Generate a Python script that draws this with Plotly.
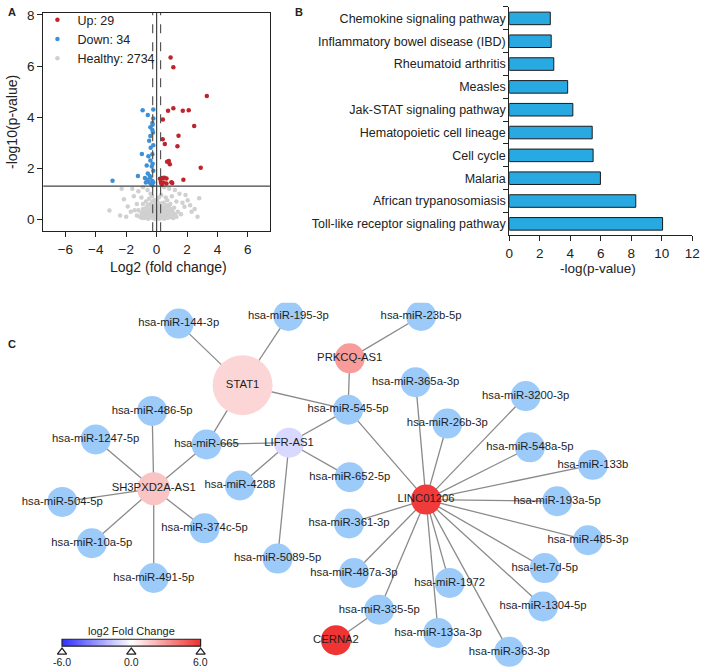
import numpy as np
import plotly.graph_objects as go

FONT = "Arial, Liberation Sans, sans-serif"
W, H = 709, 669

# ---------------- Panel A: volcano plot ----------------
up_x = [0.92, 1.1, 3.3, 2.11, 0.75, 1.1, 1.72, 2.47, 0.41, 1.44, 0.4, 0.54, 1.37, 0.69,
        0.8, 0.87, 2.9, 1.76, 0.22, 0.37, 0.5, 0.65, 0.28, 0.45, 0.97, 1.03, 0.65, 0.3, 0.34]
up_y = [6.34, 5.95, 4.83, 4.27, 4.25, 4.35, 4.25, 3.65, 3.91, 3.27, 3.13, 2.95, 2.86, 2.25,
        2.28, 2.16, 2.02, 1.55, 1.59, 1.62, 1.63, 1.6, 1.46, 1.44, 1.45, 1.42, 1.4, 1.42, 1.35]

down_x = [-0.92, -0.58, -0.28, -0.41, -0.28, -0.41, -0.24, -0.49, -0.39, -0.97, -0.54, -0.41,
          -0.65, -0.32, -0.26, -1.23, -0.58, -2.9, -0.77, -0.62, -0.41, -0.49, -0.28, -0.22,
          -0.71, -0.39, -0.28, -0.22, -0.28, -0.22, -0.22, -0.26, -0.22, -0.45]
down_y = [4.27, 4.08, 3.77, 3.6, 3.5, 3.26, 3.4, 3.08, 2.8, 2.56, 2.47, 2.3, 2.11, 2.07, 2.17,
          1.7, 1.79, 1.51, 1.62, 1.55, 1.63, 1.45, 1.5, 1.44, 1.44, 1.4, 1.33, 1.9, 2.55, 2.9,
          3.95, 3.7, 4.3, 1.7]

healthy_x = [-3.1, -2.3, -1.6, -2.15, -1.9, -2.4, -1.5, -1.2, -0.9, -0.6, -1.7, -2.0, 2.8, 2.69,
             1.83, 2.04, 1.5, 0.82, 1.2, 2.3, 1.6, 2.2, 1.9, 0.5, 1.0, -1.3, -1.0, 1.3, -0.4,
             0.3, 0.7, -0.7, 1.7, -1.45, 2.5,
             -1.1, -1.0, -0.95, -0.9, -0.85, -0.8, -0.75, -0.7, -0.68, -0.65, -0.6, -0.58, -0.55,
             -0.5, -0.48, -0.45, -0.42, -0.4, -0.38, -0.35, -0.32, -0.3, -0.28, -0.25, -0.22,
             -0.2, -0.18, -0.15, -0.12, -0.1, -0.08, -0.05, -0.02, 0.0, 0.02, 0.05, 0.08, 0.1,
             0.12, 0.15, 0.18, 0.2, 0.22, 0.25, 0.28, 0.3, 0.33, 0.35, 0.38, 0.4, 0.43, 0.45,
             0.48, 0.5, 0.52, 0.55, 0.58, 0.6, 0.63, 0.65, 0.68, 0.7, 0.75, 0.78, 0.8, 0.85, 0.9,
             0.95, 1.0, 1.05, 1.1, 1.15, 1.2, 1.3, -1.2, -1.3, 1.4, -0.9, 0.9, -0.3, 0.15, -0.15,
             0.6, -0.5]
healthy_y = [0.34, 1.2, 1.2, 0.78, 0.5, 0.15, 0.9, 1.1, 1.25, 1.15, 0.3, 0.1, 0.82, 0.1,
             0.49, 0.75, 1.0, 1.2, 1.15, 0.3, 0.2, 0.55, 0.95, 1.25, 0.9, 0.6, 0.85, 0.7, 1.0,
             0.95, 0.75, 0.7, 0.65, 0.35, 0.4,
             0.1, 0.25, 0.05, 0.4, 0.15, 0.3, 0.05, 0.2, 0.45, 0.1, 0.3, 0.55, 0.02,
             0.15, 0.38, 0.25, 0.6, 0.08, 0.2, 0.45, 0.12, 0.32, 0.7, 0.05, 0.22,
             0.5, 0.15, 0.35, 0.02, 0.28, 0.6, 0.1, 0.4, 0.2, 0.75, 0.05, 0.3, 0.5,
             0.15, 0.4, 0.02, 0.25, 0.62, 0.1, 0.35, 0.18, 0.5, 0.05, 0.28, 0.42, 0.12, 0.65,
             0.22, 0.02, 0.35, 0.15, 0.48, 0.08, 0.28, 0.55, 0.18, 0.05, 0.35, 0.12, 0.5, 0.25, 0.08,
             0.4, 0.15, 0.3, 0.05, 0.45, 0.2, 0.1, 0.35, 0.15, 0.3, 0.6, 0.6, 0.9, 0.85, 0.75,
             0.85, 0.8]

p_cut = 1.3      # -log10(0.05)
fc_cut = 0.26    # dashed fold-change guides

# ---------------- Panel B: pathway enrichment ----------------
pathways = ["Chemokine signaling pathway", "Inflammatory bowel disease (IBD)",
            "Rheumatoid arthritis", "Measles", "Jak-STAT signaling pathway",
            "Hematopoietic cell lineage", "Cell cycle", "Malaria",
            "African trypanosomiasis", "Toll-like receptor signaling pathway"]
neglogp = [2.69, 2.75, 2.92, 3.83, 4.17, 5.44, 5.5, 5.98, 8.3, 10.06]

# ---------------- Panel C: ceRNA network ----------------
hub_names = ["STAT1", "PRKCQ-AS1", "LIFR-AS1", "SH3PXD2A-AS1", "LINC01206", "CERNA2"]
hub_fc = [1.2, 2.9, -1.1, 1.7, 5.7, 5.9]

mirna_names = ["hsa-miR-144-3p", "hsa-miR-195-3p", "hsa-miR-23b-5p", "hsa-miR-545-5p",
               "hsa-miR-665", "hsa-miR-486-5p", "hsa-miR-1247-5p", "hsa-miR-504-5p",
               "hsa-miR-10a-5p", "hsa-miR-491-5p", "hsa-miR-374c-5p", "hsa-miR-4288",
               "hsa-miR-5089-5p", "hsa-miR-652-5p", "hsa-miR-361-3p", "hsa-miR-487a-3p",
               "hsa-miR-335-5p", "hsa-miR-365a-3p", "hsa-miR-26b-3p", "hsa-miR-3200-3p",
               "hsa-miR-548a-5p", "hsa-miR-133b", "hsa-miR-193a-5p", "hsa-miR-485-3p",
               "hsa-let-7d-5p", "hsa-miR-1304-5p", "hsa-miR-363-3p", "hsa-miR-133a-3p",
               "hsa-miR-1972"]

edges = [
    ("hsa-miR-144-3p", "STAT1"), ("hsa-miR-195-3p", "STAT1"), ("STAT1", "hsa-miR-545-5p"),
    ("STAT1", "hsa-miR-665"), ("hsa-miR-23b-5p", "PRKCQ-AS1"), ("PRKCQ-AS1", "hsa-miR-545-5p"),
    ("hsa-miR-545-5p", "LIFR-AS1"), ("hsa-miR-545-5p", "LINC01206"),
    ("LIFR-AS1", "hsa-miR-665"), ("LIFR-AS1", "hsa-miR-4288"), ("LIFR-AS1", "hsa-miR-652-5p"),
    ("LIFR-AS1", "hsa-miR-5089-5p"),
    ("SH3PXD2A-AS1", "hsa-miR-665"), ("SH3PXD2A-AS1", "hsa-miR-486-5p"),
    ("SH3PXD2A-AS1", "hsa-miR-1247-5p"), ("SH3PXD2A-AS1", "hsa-miR-504-5p"),
    ("SH3PXD2A-AS1", "hsa-miR-10a-5p"), ("SH3PXD2A-AS1", "hsa-miR-491-5p"),
    ("SH3PXD2A-AS1", "hsa-miR-374c-5p"),
    ("LINC01206", "hsa-miR-365a-3p"), ("LINC01206", "hsa-miR-26b-3p"),
    ("LINC01206", "hsa-miR-3200-3p"), ("LINC01206", "hsa-miR-548a-5p"),
    ("LINC01206", "hsa-miR-133b"), ("LINC01206", "hsa-miR-193a-5p"),
    ("LINC01206", "hsa-miR-485-3p"), ("LINC01206", "hsa-let-7d-5p"),
    ("LINC01206", "hsa-miR-1304-5p"), ("LINC01206", "hsa-miR-363-3p"),
    ("LINC01206", "hsa-miR-133a-3p"), ("LINC01206", "hsa-miR-1972"),
    ("LINC01206", "hsa-miR-335-5p"), ("LINC01206", "hsa-miR-487a-3p"),
    ("LINC01206", "hsa-miR-361-3p"), ("hsa-miR-335-5p", "CERNA2"),
]

cb_ticks = [-6.0, 0.0, 6.0]

# network layout (pixel coordinates of the lower panel)
pos = {
    "STAT1": (242.7, 383), "PRKCQ-AS1": (351.7, 356), "LIFR-AS1": (290, 441),
    "SH3PXD2A-AS1": (152.3, 487.3), "LINC01206": (429.3, 498.3), "CERNA2": (337.7, 640),
    "hsa-miR-144-3p": (177.7, 321), "hsa-miR-195-3p": (289.3, 313.3),
    "hsa-miR-23b-5p": (424.3, 313.3), "hsa-miR-545-5p": (350, 407.7),
    "hsa-miR-665": (206, 442.7), "hsa-miR-486-5p": (150.7, 409), "hsa-miR-1247-5p": (93.3, 437.7),
    "hsa-miR-504-5p": (59.3, 500.7), "hsa-miR-10a-5p": (89.3, 542.3),
    "hsa-miR-491-5p": (152.3, 577.3), "hsa-miR-374c-5p": (204, 527.3),
    "hsa-miR-4288": (240, 484), "hsa-miR-5089-5p": (278.3, 557.7),
    "hsa-miR-652-5p": (351.7, 475.7), "hsa-miR-361-3p": (351, 522.3),
    "hsa-miR-487a-3p": (356, 572.3), "hsa-miR-335-5p": (381.7, 609.3),
    "hsa-miR-365a-3p": (418.7, 380), "hsa-miR-26b-3p": (451, 421.7),
    "hsa-miR-3200-3p": (530.7, 394), "hsa-miR-548a-5p": (535, 445.7),
    "hsa-miR-133b": (599, 463.3), "hsa-miR-193a-5p": (562.7, 500),
    "hsa-miR-485-3p": (594, 539.3), "hsa-let-7d-5p": (550, 567.3),
    "hsa-miR-1304-5p": (548.3, 606), "hsa-miR-363-3p": (514, 651.7),
    "hsa-miR-133a-3p": (441.7, 632.7), "hsa-miR-1972": (453.3, 582.3),
}
hub_size = {"STAT1": 60, "SH3PXD2A-AS1": 33}
fc_scale = [[0, "#3030ff"], [0.5, "#ffffff"], [1, "#f03030"]]


def px(x0, x1):
    return [x0 / W, x1 / W]


def py(top, bottom):
    return [1 - bottom / H, 1 - top / H]


fig = go.Figure()

# volcano
fig.add_trace(go.Scatter(x=healthy_x, y=healthy_y, mode="markers", name="Healthy: 2734",
                         legendrank=3, marker=dict(color="#d0d0d0", size=4.5),
                         xaxis="x", yaxis="y"))
fig.add_trace(go.Scatter(x=up_x, y=up_y, mode="markers", name="Up: 29", legendrank=1,
                         marker=dict(color="#c0232b", size=4.5), xaxis="x", yaxis="y"))
fig.add_trace(go.Scatter(x=down_x, y=down_y, mode="markers", name="Down: 34", legendrank=2,
                         marker=dict(color="#3d8fd6", size=4.5), xaxis="x", yaxis="y"))

# bars
fig.add_trace(go.Bar(x=neglogp, y=pathways, orientation="h", width=0.55,
                     marker=dict(color="#29a9e1", line=dict(color="#1a1a1a", width=1)),
                     showlegend=False, xaxis="x2", yaxis="y2"))

# network edges
ex, ey = [], []
for a, b in edges:
    ex += [pos[a][0], pos[b][0], None]
    ey += [pos[a][1], pos[b][1], None]
fig.add_trace(go.Scatter(x=ex, y=ey, mode="lines", line=dict(color="#8a8a8a", width=1.3),
                         showlegend=False, hoverinfo="skip", xaxis="x3", yaxis="y3"))

fig.add_trace(go.Scatter(x=[pos[n][0] for n in mirna_names], y=[pos[n][1] for n in mirna_names],
                         mode="markers", marker=dict(color="#9dcbf9", size=30, opacity=1,
                                                     line=dict(width=0)),
                         showlegend=False, xaxis="x3", yaxis="y3"))
fig.add_trace(go.Scatter(x=[pos[n][0] for n in hub_names], y=[pos[n][1] for n in hub_names],
                         mode="markers",
                         marker=dict(color=hub_fc, colorscale=fc_scale, cmin=-6, cmax=6,
                                     opacity=1, line=dict(width=0),
                                     size=[hub_size.get(n, 30) for n in hub_names]),
                         showlegend=False, xaxis="x3", yaxis="y3"))
all_names = mirna_names + hub_names
fig.add_trace(go.Scatter(x=[pos[n][0] for n in all_names], y=[pos[n][1] for n in all_names],
                         mode="text", text=all_names, textposition="middle center",
                         textfont=dict(size=11.3, color="#1e1e1e", family=FONT),
                         showlegend=False, xaxis="x3", yaxis="y3"))

# fold-change colour key
cb_x0, cb_x1, cb_top, cb_bot = 59, 200, 639, 646
n_cells = 120
fig.add_trace(go.Heatmap(z=[np.linspace(-6, 6, n_cells)], x=np.linspace(cb_x0, cb_x1, n_cells + 1),
                         y=[cb_top, cb_bot], colorscale=fc_scale, zmin=-6, zmax=6,
                         showscale=False, hoverinfo="skip", xaxis="x3", yaxis="y3"))
cb_pos = [cb_x0 + (v + 6) / 12 * (cb_x1 - cb_x0) for v in cb_ticks]
fig.add_trace(go.Scatter(x=cb_pos, y=[652] * 3, mode="markers",
                         marker=dict(symbol="triangle-up-open", size=8, color="#222",
                                     line=dict(width=1.3)),
                         showlegend=False, hoverinfo="skip", xaxis="x3", yaxis="y3"))

axis_common = dict(showline=True, linecolor="#222", linewidth=1.2, ticks="outside",
                   ticklen=5, tickcolor="#222", showgrid=False, zeroline=False,
                   tickfont=dict(size=13.5, color="#222", family=FONT))

fig.update_layout(
    width=W, height=H, margin=dict(l=0, r=0, t=0, b=0),
    plot_bgcolor="white", paper_bgcolor="white",
    font=dict(family=FONT, color="#222"),
    xaxis=dict(domain=px(40, 270.5), range=[-7.45, 7.45], tickvals=[-6, -4, -2, 0, 2, 4, 6],
               mirror=True, anchor="y", **axis_common),
    yaxis=dict(domain=py(8, 228), range=[-0.47, 8.08], tickvals=[0, 2, 4, 6, 8],
               mirror=True, anchor="x", **axis_common),
    xaxis2=dict(domain=px(514, 700), range=[0, 12], dtick=2, anchor="y2", **axis_common),
    yaxis2=dict(domain=py(2, 232), autorange="reversed", tickson="boundaries", anchor="x2",
                **{**axis_common, "tickfont": dict(size=12.5, color="#222", family=FONT)}),
    xaxis3=dict(domain=[0, 1], range=[0, W], visible=False, anchor="y3"),
    yaxis3=dict(domain=py(300, H), range=[H, 300], visible=False, anchor="x3"),
    legend=dict(x=34 / W, y=1.0, xanchor="left", yanchor="top",
                bgcolor="rgba(0,0,0,0)",
                font=dict(size=12.5, color="#222", family=FONT), itemwidth=30,
                tracegroupgap=0),
    showlegend=True,
)

# threshold lines
fig.add_shape(type="line", xref="x", yref="y domain", x0=0, x1=0, y0=0, y1=1,
              line=dict(color="#444", width=1.2))
for v in (-fc_cut, fc_cut):
    fig.add_shape(type="line", xref="x", yref="y domain", x0=v, x1=v, y0=0, y1=1,
                  line=dict(color="#555", width=1.2, dash="dash"))
fig.add_shape(type="line", xref="x domain", yref="y", x0=0, x1=1, y0=p_cut, y1=p_cut,
              line=dict(color="#444", width=1.2))
fig.add_shape(type="rect", xref="x3", yref="y3", x0=cb_x0, x1=cb_x1, y0=cb_top, y1=cb_bot,
              line=dict(color="#222", width=1.2))

ann = [
    dict(text="<b>A</b>", x=8, y=7, size=11),
    dict(text="<b>B</b>", x=300, y=7, size=11),
    dict(text="<b>C</b>", x=8, y=342, size=11),
    dict(text="Log2 (fold change)", x=167, y=264, size=14),
    dict(text="-log(p-value)", x=604, y=265, size=13.5),
    dict(text="log2 Fold Change", x=130, y=631, size=11),
]
for v, xv in zip(cb_ticks, cb_pos):
    ann.append(dict(text=f"{v:.1f}", x=xv, y=662, size=10.5))
for a in ann:
    fig.add_annotation(text=a["text"], x=a["x"] / W, y=1 - a["y"] / H, xref="paper", yref="paper",
                       showarrow=False, font=dict(size=a["size"], color="#222", family=FONT),
                       xanchor="center", yanchor="middle")
fig.add_annotation(text="-log10(p-value)", x=8 / W, y=1 - 118 / H, xref="paper", yref="paper",
                   showarrow=False, textangle=-90, font=dict(size=14, color="#222", family=FONT),
                   xanchor="center", yanchor="middle")

fig.write_html("out.html", config={"displayModeBar": False},
               post_script="document.body.style.margin='0';")
